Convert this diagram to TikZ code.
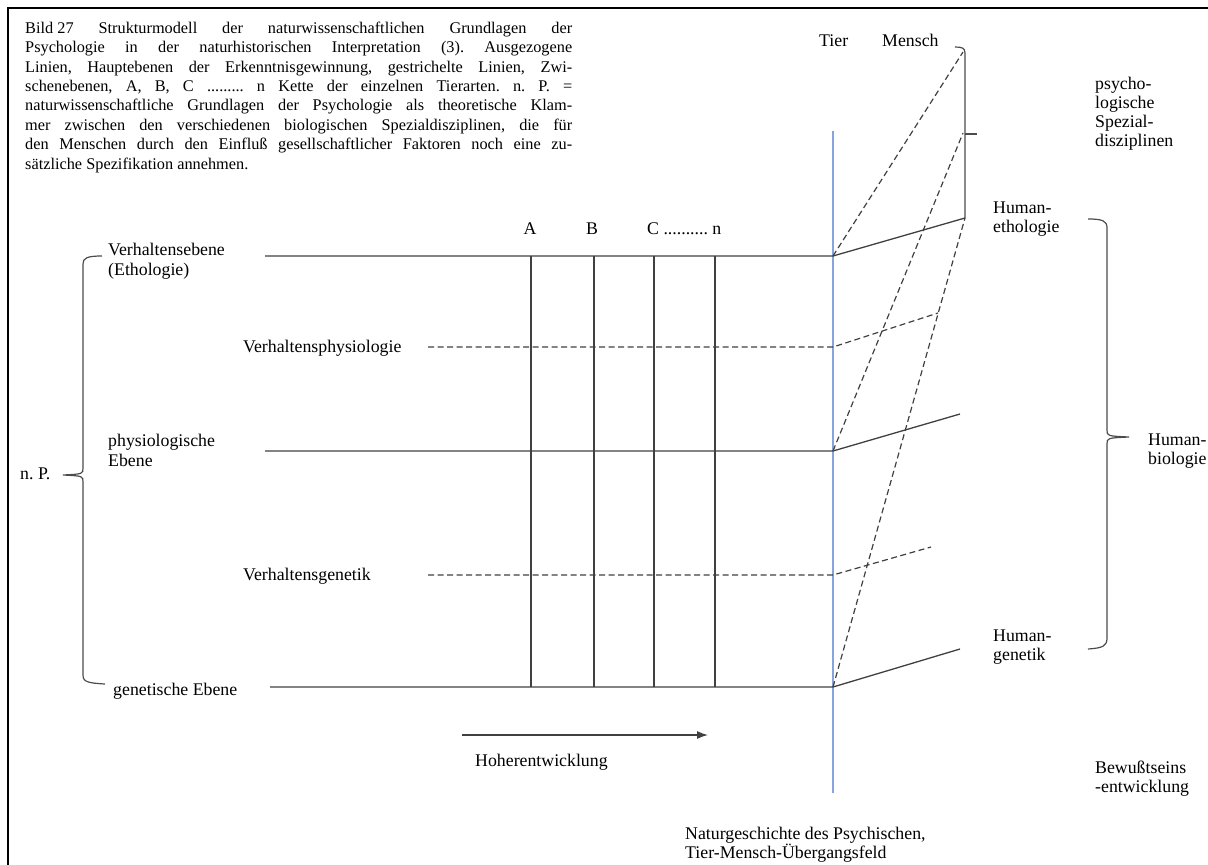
\documentclass[tikz,border=0pt]{standalone}
\usepackage{fontspec}
\setmainfont{Liberation Serif}
\usetikzlibrary{arrows.meta}
\definecolor{grenzblau}{RGB}{135,165,220}
\frenchspacing

\begin{document}
\begin{tikzpicture}[x=1pt,y=-1pt,
  lab/.style={anchor=base west,inner sep=0pt,align=left,font=\fontsize{17.8}{20}\selectfont},
  rlab/.style={anchor=base west,inner sep=0pt,align=left,font=\fontsize{17.8}{19}\selectfont},
  main/.style={line width=1.3pt,draw=black!75},
  zwi/.style={line width=1.2pt,draw=black!75,dash pattern=on 6pt off 3.5pt},
  klammer/.style={line width=1.2pt,draw=black!70}]
\useasboundingbox (0,0) rectangle (1208,865);
\draw[line width=2pt] (8,865) -- (8,8) -- (1208,8);
%caption (base = last line)
\node[anchor=base west,inner sep=0pt,align=left,font=\fontsize{16.3}{19.4}\selectfont\frenchspacing] (cap) at (25,169) {%
\makebox[547pt][s]{\mbox{Bild 27} Strukturmodell der naturwissenschaftlichen Grundlagen der}\\
\makebox[547pt][s]{Psychologie in der naturhistorischen Interpretation (3). Ausgezogene}\\
\makebox[547pt][s]{Linien, Hauptebenen der Erkenntnisgewinnung, gestrichelte Linien, Zwi-}\\
\makebox[547pt][s]{schenebenen, A, B, C \mbox{.........} n Kette der einzelnen Tierarten. n. P. =}\\
\makebox[547pt][s]{naturwissenschaftliche Grundlagen der Psychologie als theoretische Klam-}\\
\makebox[547pt][s]{mer zwischen den verschiedenen biologischen Spezialdisziplinen, die f\"ur}\\
\makebox[547pt][s]{den Menschen durch den Einflu\ss{} gesellschaftlicher Faktoren noch eine zu-}\\
s\"atzliche Spezifikation annehmen.};
%Tier-Mensch-Grenze
\draw[line width=2pt,grenzblau] (833,131) -- (833,793);
\coordinate (l1) at (265,256); \coordinate (t1) at (833,256); \coordinate (m1) at (965,218);
\coordinate (l2) at (428,347); \coordinate (t2) at (833,347); \coordinate (m2) at (938,313);
\coordinate (l3) at (265,451); \coordinate (t3) at (833,451); \coordinate (m3) at (960,414);
\coordinate (l4) at (428,575); \coordinate (t4) at (833,575); \coordinate (m4) at (931,547);
\coordinate (l5) at (270,687); \coordinate (t5) at (833,687); \coordinate (m5) at (960,649);
\coordinate (d1) at (963,52);
\coordinate (d3) at (963,133);
%Ebenen
\draw[main] (l1) -- (t1) -- (m1);
\draw[zwi] (l2) -- (t2) -- (m2);
\draw[main] (l3) -- (t3) -- (m3);
\draw[zwi] (l4) -- (t4) -- (m4);
\draw[main] (l5) -- (t5) -- (m5);
\draw[zwi] (t1) -- (d1);
\draw[zwi] (t3) -- (d3);
\draw[zwi] (t5) -- (m1);
%Tierarten
\foreach \x in {531,594,654,715} \draw[main] (\x,256) -- (\x,687);
\node[lab,anchor=base] (ta) at (530,234) {A};
\node[lab,anchor=base] (tb) at (592,234) {B};
\node[lab] (tc) at (647,234) {C \mbox{..........} n};
\node[lab] (tier) at (819,46) {Tier};
\node[lab] (mensch) at (882,46) {Mensch};
%Klammern
\draw[klammer] (955,47) .. controls (962,47) and (965,48) .. (965,53) -- (m1);
\draw[klammer] (965,134) -- (977,134);
\draw[klammer] (102,256) .. controls (87,256) and (83,258) .. (83,264) -- (83,468)
  .. controls (83,474) .. (63,475) .. controls (83,476) .. (83,482) -- (83,675)
  .. controls (83,682) and (88,683) .. (105,684);
\draw[klammer] (1088,219) .. controls (1103,219) and (1107,221) .. (1107,228) -- (1107,430)
  .. controls (1107,436) .. (1129,437) .. controls (1107,438) .. (1107,444) -- (1107,638)
  .. controls (1107,646) and (1103,648) .. (1088,649);
%Beschriftung links (base = letzte Zeile)
\node[lab] (veb) at (108,275) {Verhaltensebene\\(Ethologie)};
\node[lab] (vph) at (243,352) {Verhaltensphysiologie};
\node[lab] (peb) at (108,466) {physiologische\\Ebene};
\node[lab] (vge) at (243,580) {Verhaltensgenetik};
\node[lab] (geb) at (113,695) {genetische Ebene};
\node[lab] (np) at (20,479) {n. P.};
%Beschriftung rechts
\node[rlab] (psy) at (1095,146) {psycho-\\logische\\Spezial-\\disziplinen};
\node[rlab] (heth) at (993,232) {Human-\\ethologie};
\node[rlab] (hbio) at (1148,464) {Human-\\biologie};
\node[rlab] (hgen) at (993,660) {Human-\\genetik};
\node[rlab] (bew) at (1095,792) {Bewu\ss tseins\\-entwicklung};
\node[rlab] (nat) at (685,858) {Naturgeschichte des Psychischen,\\Tier-Mensch-\"Ubergangsfeld};
%Hoeherentwicklung
\coordinate (h0) at (462,735);
\coordinate (h1) at (708,735);
\draw[main,-{Latex[length=11pt,width=8pt]}] (h0) -- (h1);
\node[lab] (hoe) at (475,766) {Hoherentwicklung};
\end{tikzpicture}
\end{document}
